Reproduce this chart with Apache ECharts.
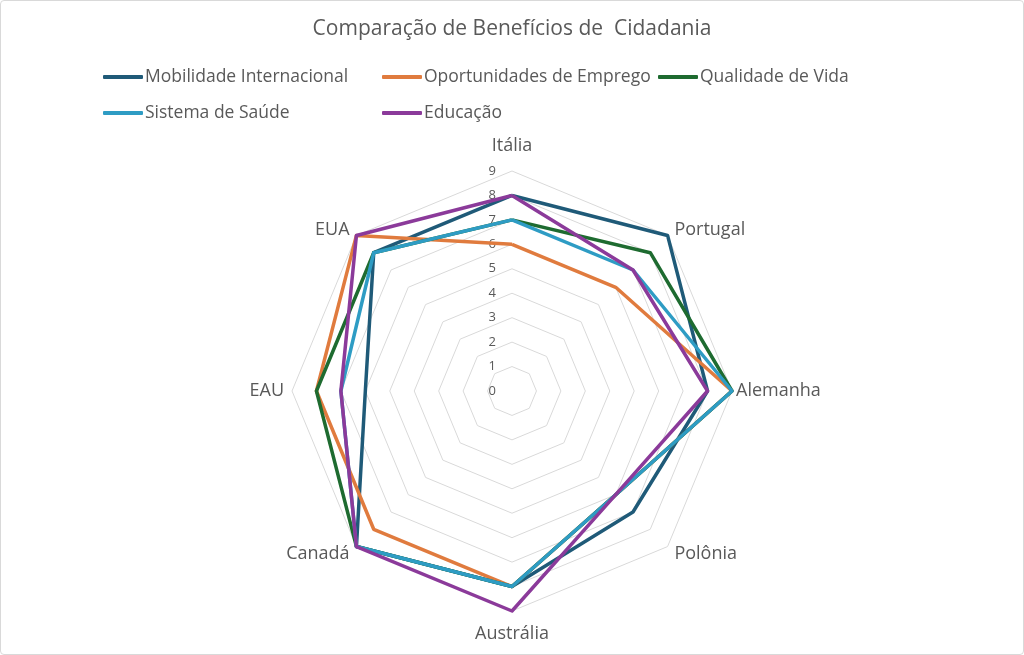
<!DOCTYPE html>
<html>
<head>
<meta charset="utf-8">
<script src="https://cdn.jsdelivr.net/npm/echarts@6/dist/echarts.min.js"></script>
<style>
  html, body { margin: 0; padding: 0; background: #fff; }
  #chart { width: 1022px; height: 653px; border: 1px solid #d9d9d9; border-radius: 4px; }
</style>
</head>
<body>
<div id="chart"></div>
<script>
// países na ordem do gráfico (horário, a partir do topo)
const countries = ["Itália", "Portugal", "Alemanha", "Polônia", "Austrália", "Canadá", "EAU", "EUA"];

const mobilidade = [8, 9, 8, 7, 8, 9, 6, 8];
const oportunidades = [6, 6, 9, 6, 8, 8, 8, 9];
const qualidade = [7, 8, 9, 6, 8, 9, 8, 8];
const saude = [7, 7, 9, 6, 8, 9, 7, 8];
const educacao = [8, 7, 8, 6, 9, 9, 7, 9];

const seriesNames = ["Mobilidade Internacional", "Oportunidades de Emprego", "Qualidade de Vida", "Sistema de Saúde", "Educação"];
const seriesData = [mobilidade, oportunidades, qualidade, saude, educacao];
const colors = ["#1f5a78", "#e07b3e", "#1e6b30", "#2e9cc4", "#8b3a9a"];

const font = "Open Sans";
const maxValue = 9;

// echarts desenha os indicadores no sentido anti-horário
const order = [0].concat(countries.map((c, i) => i).slice(1).reverse());

// afastamento extra do nome de cada país (estilo rich)
const nameStyle = ["top", "ne", "e", "se", "bottom", "sw", "w", "nw"];

const chart = echarts.init(document.getElementById("chart"));

const legendPos = [
  [97, 62], [376, 62], [652, 62],
  [97, 98], [376, 98],
];

const nameText = { fontFamily: font, fontSize: 18, color: "#595959" };

const option = {
  color: colors,
  title: {
    text: "Comparação de Benefícios de  Cidadania",
    left: "center",
    top: 13,
    textStyle: { fontFamily: font, fontSize: 21, fontWeight: "normal", color: "#595959" },
  },
  legend: seriesNames.map((name, i) => ({
    data: [name],
    left: legendPos[i][0],
    top: legendPos[i][1],
    icon: "roundRect",
    itemWidth: 40,
    itemHeight: 4,
    textStyle: { fontFamily: font, fontSize: 17.5, color: "#595959", padding: [0, 0, 0, -3] },
  })),
  radar: {
    center: [511, 390],
    radius: 220,
    min: 0,
    max: maxValue,
    splitNumber: 9,
    shape: "polygon",
    nameGap: 4,
    axisName: {
      fontFamily: font,
      fontSize: 18,
      color: "#595959",
      formatter: (name) => "{" + nameStyle[countries.indexOf(name)] + "|" + name + "}",
      rich: {
        top: Object.assign({ padding: [0, 0, 12, 0] }, nameText),
        ne: Object.assign({ padding: [0, 0, 6, 4] }, nameText),
        e: Object.assign({ padding: [0, 0, 0, 0] }, nameText),
        se: Object.assign({ padding: [8, 0, 0, 4] }, nameText),
        bottom: Object.assign({ padding: [10, 0, 0, 0] }, nameText),
        sw: Object.assign({ padding: [8, 4, 0, 0] }, nameText),
        w: Object.assign({ padding: [0, 4, 0, 0] }, nameText),
        nw: Object.assign({ padding: [0, 4, 6, 0] }, nameText),
      },
    },
    splitLine: { lineStyle: { color: "#d9d9d9", width: 1 } },
    splitArea: { show: false },
    axisLine: { show: false },
    axisTick: { show: false },
    axisLabel: { show: false },
    indicator: order.map((k, i) => {
      const ind = { name: countries[k], min: 0, max: maxValue };
      if (i === 0) {
        ind.axisLabel = { show: true, fontFamily: font, fontSize: 13, color: "#595959", margin: 16 };
      }
      return ind;
    }),
  },
  series: [{
    type: "radar",
    symbol: "none",
    lineStyle: { width: 3.5 },
    data: seriesData.map((vals, i) => ({
      name: seriesNames[i],
      value: order.map((k) => vals[k]),
      lineStyle: { color: colors[i], width: 3.5 },
      itemStyle: { color: colors[i] },
    })),
  }],
};

chart.setOption(option);
</script>
</body>
</html>
